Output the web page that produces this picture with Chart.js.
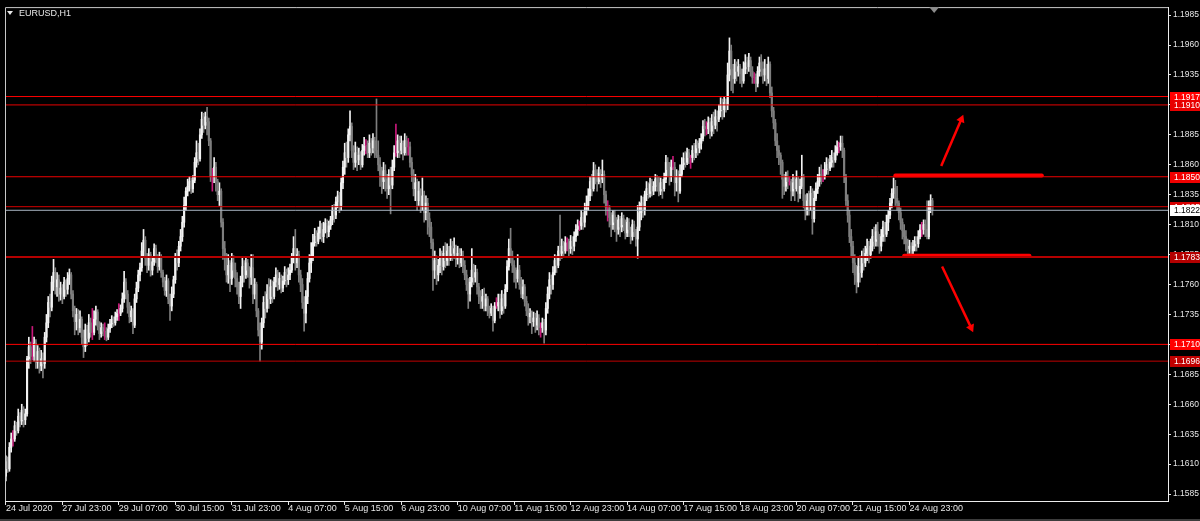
<!DOCTYPE html>
<html>
<head>
<meta charset="utf-8">
<title>EURUSD,H1</title>
<script src="https://cdn.jsdelivr.net/npm/chart.js@4.4.1/dist/chart.umd.min.js"></script>
<style>
  html, body { margin: 0; padding: 0; background: #000; }
  #wrap { position: relative; width: 1200px; height: 521px; }
  #title { position: absolute; left: 7px; top: 7px; color: #e8e8e8; font: 9px 'Liberation Sans', sans-serif; line-height: 12px; }
  #title .tri { display: inline-block; width: 0; height: 0; border-left: 3px solid transparent; border-right: 3px solid transparent; border-top: 4px solid #e8e8e8; margin-right: 6px; vertical-align: 1px; }
</style>
</head>
<body>
<div id="wrap">
  <canvas id="chart"></canvas>
  <div id="title"><span class="tri"></span>EURUSD,H1</div>
</div>
<script>
// --- 1. price data: H1 bars, 24 Jul 2020 .. 25 Aug 2020 ---
const firstOpen = 1.1600;

const closes = [
  1.1612,1.1606,1.1624,1.1631,1.1631,1.1642,1.1638,1.1650,1.1646,1.1655,
  1.1647,1.1652,1.1698,1.1708,1.1700,1.1700,1.1711,1.1695,1.1704,1.1692,
  1.1698,1.1694,1.1716,1.1728,1.1745,1.1741,1.1762,1.1770,1.1758,1.1764,
  1.1752,1.1757,1.1750,1.1762,1.1756,1.1765,1.1768,1.1752,1.1738,1.1729,
  1.1735,1.1724,1.1731,1.1716,1.1708,1.1722,1.1715,1.1728,1.1720,1.1720,
  1.1731,1.1737,1.1725,1.1719,1.1724,1.1721,1.1721,1.1716,1.1723,1.1727,
  1.1731,1.1728,1.1733,1.1736,1.1736,1.1740,1.1748,1.1762,1.1752,1.1741,
  1.1733,1.1738,1.1726,1.1748,1.1757,1.1768,1.1774,1.1788,1.1797,1.1782,
  1.1776,1.1785,1.1772,1.1779,1.1790,1.1781,1.1775,1.1783,1.1770,1.1762,
  1.1755,1.1763,1.1748,1.1742,1.1752,1.1764,1.1782,1.1778,1.1792,1.1800,
  1.1812,1.1826,1.1838,1.1842,1.1846,1.1840,1.1847,1.1862,1.1870,1.1865,
  1.1885,1.1898,1.1893,1.1900,1.1896,1.1880,1.1850,1.1850,1.1858,1.1846,
  1.1835,1.1838,1.1812,1.1790,1.1782,1.1768,1.1776,1.1765,1.1778,1.1772,
  1.1765,1.1758,1.1750,1.1762,1.1775,1.1768,1.1778,1.1772,1.1766,1.1774,
  1.1752,1.1760,1.1738,1.1722,1.1712,1.1728,1.1745,1.1740,1.1752,1.1748,
  1.1758,1.1750,1.1762,1.1768,1.1760,1.1765,1.1757,1.1763,1.1770,1.1764,
  1.1768,1.1772,1.1782,1.1790,1.1778,1.1785,1.1768,1.1760,1.1745,1.1736,
  1.1750,1.1765,1.1778,1.1784,1.1795,1.1800,1.1796,1.1803,1.1808,1.1800,
  1.1806,1.1811,1.1804,1.1809,1.1814,1.1822,1.1818,1.1829,1.1834,1.1826,
  1.1845,1.1858,1.1870,1.1866,1.1885,1.1892,1.1872,1.1862,1.1870,1.1864,
  1.1868,1.1860,1.1872,1.1876,1.1876,1.1870,1.1878,1.1874,1.1880,1.1872,
  1.1868,1.1860,1.1852,1.1846,1.1855,1.1848,1.1840,1.1852,1.1843,1.1858,
  1.1870,1.1870,1.1880,1.1872,1.1878,1.1870,1.1880,1.1875,1.1875,1.1862,
  1.1852,1.1840,1.1845,1.1830,1.1838,1.1826,1.1834,1.1820,1.1828,1.1815,
  1.1808,1.1795,1.1772,1.1780,1.1768,1.1776,1.1782,1.1775,1.1786,1.1780,
  1.1788,1.1782,1.1792,1.1786,1.1790,1.1781,1.1786,1.1778,1.1784,1.1776,
  1.1768,1.1760,1.1752,1.1762,1.1772,1.1766,1.1770,1.1758,1.1750,1.1746,
  1.1750,1.1742,1.1748,1.1738,1.1736,1.1740,1.1730,1.1742,1.1742,1.1745,
  1.1738,1.1748,1.1742,1.1756,1.1775,1.1790,1.1782,1.1776,1.1770,1.1765,
  1.1772,1.1760,1.1752,1.1758,1.1746,1.1738,1.1733,1.1736,1.1729,1.1732,
  1.1726,1.1732,1.1724,1.1724,1.1728,1.1722,1.1740,1.1752,1.1764,1.1760,
  1.1770,1.1780,1.1776,1.1788,1.1786,1.1792,1.1788,1.1795,1.1795,1.1790,
  1.1796,1.1792,1.1800,1.1806,1.1809,1.1809,1.1816,1.1812,1.1822,1.1826,
  1.1834,1.1846,1.1840,1.1855,1.1850,1.1846,1.1853,1.1848,1.1852,1.1835,
  1.1824,1.1824,1.1816,1.1810,1.1818,1.1812,1.1806,1.1814,1.1808,1.1815,
  1.1810,1.1803,1.1812,1.1806,1.1800,1.1810,1.1804,1.1798,1.1808,1.1820,
  1.1828,1.1822,1.1835,1.1840,1.1836,1.1844,1.1838,1.1842,1.1848,1.1843,
  1.1838,1.1845,1.1840,1.1848,1.1862,1.1856,1.1850,1.1858,1.1858,1.1845,
  1.1850,1.1838,1.1852,1.1860,1.1865,1.1862,1.1870,1.1866,1.1866,1.1872,
  1.1870,1.1876,1.1874,1.1878,1.1882,1.1892,1.1890,1.1890,1.1895,1.1888,
  1.1896,1.1893,1.1900,1.1898,1.1905,1.1910,1.1906,1.1912,1.1910,1.1935,
  1.1955,1.1940,1.1932,1.1944,1.1938,1.1942,1.1936,1.1930,1.1940,1.1945,
  1.1942,1.1947,1.1938,1.1933,1.1933,1.1928,1.1938,1.1945,1.1940,1.1935,
  1.1940,1.1932,1.1944,1.1920,1.1905,1.1895,1.1880,1.1872,1.1868,1.1862,
  1.1848,1.1842,1.1850,1.1846,1.1846,1.1838,1.1845,1.1840,1.1848,1.1836,
  1.1842,1.1850,1.1830,1.1822,1.1830,1.1826,1.1836,1.1815,1.1832,1.1840,
  1.1846,1.1852,1.1850,1.1850,1.1856,1.1860,1.1857,1.1862,1.1866,1.1864,
  1.1870,1.1875,1.1875,1.1878,1.1872,1.1850,1.1830,1.1818,1.1800,1.1792,
  1.1778,1.1768,1.1762,1.1775,1.1770,1.1782,1.1778,1.1786,1.1790,1.1785,
  1.1792,1.1800,1.1796,1.1804,1.1798,1.1792,1.1800,1.1808,1.1802,1.1812,
  1.1818,1.1828,1.1836,1.1840,1.1832,1.1828,1.1820,1.1812,1.1805,1.1800,
  1.1794,1.1790,1.1792,1.1788,1.1792,1.1796,1.1794,1.1800,1.1806,1.1806,
  1.1810,1.1806,1.1800,1.1825,1.1830,1.1822
];

const highs = [
  1.1617,1.1616,1.1628,1.1636,1.1638,1.1646,1.1645,1.1656,1.1653,1.1660,
  1.1658,1.1656,1.1700,1.1716,1.1712,1.1725,1.1716,1.1714,1.1709,1.1707,
  1.1705,1.1703,1.1720,1.1735,1.1750,1.1752,1.1767,1.1781,1.1774,1.1770,
  1.1768,1.1762,1.1760,1.1766,1.1764,1.1770,1.1773,1.1770,1.1755,1.1742,
  1.1740,1.1739,1.1738,1.1733,1.1722,1.1727,1.1726,1.1735,1.1732,1.1740,
  1.1738,1.1742,1.1739,1.1729,1.1728,1.1727,1.1728,1.1724,1.1727,1.1731,
  1.1734,1.1733,1.1737,1.1739,1.1744,1.1743,1.1753,1.1771,1.1765,1.1755,
  1.1745,1.1742,1.1740,1.1752,1.1762,1.1772,1.1778,1.1795,1.1806,1.1800,
  1.1786,1.1790,1.1787,1.1783,1.1794,1.1793,1.1785,1.1787,1.1785,1.1772,
  1.1766,1.1768,1.1765,1.1752,1.1758,1.1767,1.1786,1.1789,1.1796,1.1806,
  1.1817,1.1833,1.1841,1.1848,1.1850,1.1849,1.1851,1.1866,1.1880,1.1878,
  1.1890,1.1904,1.1903,1.1904,1.1908,1.1899,1.1882,1.1857,1.1866,1.1862,
  1.1848,1.1845,1.1840,1.1815,1.1796,1.1786,1.1785,1.1780,1.1786,1.1784,
  1.1778,1.1770,1.1762,1.1767,1.1782,1.1780,1.1783,1.1781,1.1775,1.1785,
  1.1785,1.1765,1.1762,1.1740,1.1728,1.1732,1.1750,1.1754,1.1760,1.1765,
  1.1764,1.1763,1.1766,1.1774,1.1772,1.1770,1.1768,1.1767,1.1775,1.1773,
  1.1774,1.1777,1.1786,1.1800,1.1806,1.1790,1.1788,1.1772,1.1765,1.1750,
  1.1755,1.1770,1.1785,1.1795,1.1802,1.1807,1.1805,1.1808,1.1813,1.1811,
  1.1812,1.1815,1.1814,1.1813,1.1817,1.1826,1.1827,1.1833,1.1838,1.1837,
  1.1849,1.1863,1.1878,1.1879,1.1890,1.1905,1.1895,1.1876,1.1879,1.1875,
  1.1874,1.1871,1.1877,1.1883,1.1881,1.1880,1.1885,1.1882,1.1886,1.1883,
  1.1915,1.1880,1.1866,1.1858,1.1862,1.1860,1.1852,1.1856,1.1858,1.1864,
  1.1876,1.1894,1.1885,1.1884,1.1884,1.1880,1.1886,1.1884,1.1882,1.1879,
  1.1866,1.1856,1.1852,1.1848,1.1846,1.1840,1.1849,1.1838,1.1834,1.1832,
  1.1820,1.1812,1.1798,1.1788,1.1784,1.1781,1.1790,1.1788,1.1792,1.1795,
  1.1794,1.1792,1.1798,1.1796,1.1799,1.1793,1.1792,1.1790,1.1790,1.1788,
  1.1780,1.1772,1.1765,1.1766,1.1790,1.1777,1.1776,1.1773,1.1761,1.1755,
  1.1756,1.1757,1.1752,1.1750,1.1742,1.1744,1.1742,1.1745,1.1749,1.1752,
  1.1752,1.1755,1.1752,1.1760,1.1780,1.1798,1.1807,1.1788,1.1780,1.1774,
  1.1785,1.1776,1.1766,1.1764,1.1760,1.1750,1.1744,1.1740,1.1738,1.1737,
  1.1736,1.1738,1.1735,1.1728,1.1732,1.1731,1.1745,1.1758,1.1770,1.1768,
  1.1775,1.1785,1.1784,1.1792,1.1818,1.1798,1.1796,1.1800,1.1799,1.1798,
  1.1801,1.1800,1.1804,1.1810,1.1814,1.1813,1.1822,1.1820,1.1828,1.1834,
  1.1840,1.1850,1.1852,1.1862,1.1860,1.1856,1.1858,1.1856,1.1864,1.1855,
  1.1838,1.1830,1.1826,1.1820,1.1822,1.1822,1.1816,1.1818,1.1817,1.1820,
  1.1818,1.1814,1.1816,1.1815,1.1808,1.1814,1.1813,1.1806,1.1826,1.1829,
  1.1834,1.1833,1.1838,1.1846,1.1845,1.1849,1.1848,1.1846,1.1852,1.1851,
  1.1850,1.1849,1.1848,1.1853,1.1868,1.1866,1.1862,1.1864,1.1867,1.1862,
  1.1856,1.1855,1.1860,1.1866,1.1870,1.1871,1.1874,1.1873,1.1868,1.1876,
  1.1878,1.1881,1.1880,1.1882,1.1886,1.1897,1.1898,1.1896,1.1900,1.1899,
  1.1902,1.1904,1.1906,1.1905,1.1910,1.1916,1.1915,1.1917,1.1915,1.1945,
  1.1966,1.1960,1.1944,1.1948,1.1946,1.1948,1.1944,1.1940,1.1946,1.1952,
  1.1950,1.1953,1.1950,1.1942,1.1937,1.1936,1.1942,1.1950,1.1952,1.1946,
  1.1948,1.1944,1.1950,1.1946,1.1925,1.1908,1.1898,1.1886,1.1876,1.1870,
  1.1864,1.1852,1.1854,1.1855,1.1850,1.1848,1.1852,1.1850,1.1855,1.1850,
  1.1848,1.1868,1.1852,1.1835,1.1836,1.1838,1.1842,1.1840,1.1838,1.1845,
  1.1852,1.1858,1.1860,1.1856,1.1862,1.1866,1.1865,1.1868,1.1872,1.1870,
  1.1876,1.1880,1.1879,1.1884,1.1884,1.1874,1.1852,1.1835,1.1822,1.1806,
  1.1796,1.1785,1.1776,1.1782,1.1784,1.1788,1.1790,1.1792,1.1798,1.1796,
  1.1798,1.1806,1.1808,1.1810,1.1812,1.1802,1.1806,1.1813,1.1812,1.1818,
  1.1822,1.1832,1.1840,1.1849,1.1847,1.1842,1.1830,1.1824,1.1815,1.1810,
  1.1805,1.1798,1.1797,1.1795,1.1797,1.1800,1.1800,1.1805,1.1810,1.1812,
  1.1814,1.1814,1.1830,1.1830,1.1835,1.1832
];

const lows = [
  1.1596,1.1603,1.1604,1.1620,1.1625,1.1629,1.1634,1.1636,1.1641,1.1643,
  1.1641,1.1643,1.1650,1.1690,1.1694,1.1697,1.1696,1.1690,1.1690,1.1686,
  1.1688,1.1682,1.1690,1.1712,1.1724,1.1733,1.1738,1.1755,1.1752,1.1750,
  1.1746,1.1747,1.1744,1.1748,1.1750,1.1752,1.1760,1.1748,1.1733,1.1718,
  1.1722,1.1718,1.1720,1.1710,1.1699,1.1704,1.1709,1.1712,1.1716,1.1714,
  1.1718,1.1726,1.1722,1.1714,1.1716,1.1717,1.1714,1.1713,1.1714,1.1720,
  1.1724,1.1725,1.1726,1.1730,1.1730,1.1734,1.1737,1.1745,1.1748,1.1736,
  1.1728,1.1729,1.1719,1.1724,1.1745,1.1754,1.1763,1.1771,1.1784,1.1776,
  1.1770,1.1772,1.1767,1.1768,1.1776,1.1778,1.1770,1.1772,1.1766,1.1758,
  1.1751,1.1750,1.1744,1.1730,1.1738,1.1749,1.1761,1.1772,1.1775,1.1788,
  1.1796,1.1808,1.1822,1.1834,1.1838,1.1836,1.1837,1.1845,1.1858,1.1860,
  1.1863,1.1882,1.1887,1.1890,1.1885,1.1876,1.1846,1.1838,1.1845,1.1838,
  1.1830,1.1826,1.1808,1.1781,1.1772,1.1762,1.1761,1.1754,1.1760,1.1766,
  1.1758,1.1752,1.1744,1.1740,1.1758,1.1762,1.1765,1.1766,1.1757,1.1760,
  1.1744,1.1748,1.1733,1.1717,1.1696,1.1706,1.1724,1.1732,1.1737,1.1740,
  1.1744,1.1745,1.1748,1.1758,1.1755,1.1756,1.1753,1.1754,1.1760,1.1758,
  1.1760,1.1764,1.1770,1.1778,1.1772,1.1774,1.1762,1.1754,1.1740,1.1721,
  1.1728,1.1744,1.1762,1.1770,1.1780,1.1792,1.1792,1.1794,1.1798,1.1796,
  1.1795,1.1803,1.1799,1.1800,1.1806,1.1810,1.1812,1.1815,1.1824,1.1820,
  1.1822,1.1840,1.1852,1.1858,1.1862,1.1880,1.1866,1.1856,1.1858,1.1855,
  1.1860,1.1856,1.1858,1.1868,1.1869,1.1866,1.1866,1.1868,1.1870,1.1866,
  1.1866,1.1855,1.1842,1.1836,1.1840,1.1838,1.1832,1.1835,1.1819,1.1840,
  1.1855,1.1867,1.1866,1.1866,1.1869,1.1864,1.1868,1.1868,1.1868,1.1858,
  1.1846,1.1834,1.1830,1.1822,1.1826,1.1820,1.1822,1.1812,1.1814,1.1802,
  1.1800,1.1790,1.1755,1.1765,1.1760,1.1763,1.1770,1.1768,1.1772,1.1774,
  1.1776,1.1776,1.1780,1.1780,1.1782,1.1775,1.1777,1.1774,1.1775,1.1770,
  1.1764,1.1755,1.1740,1.1746,1.1758,1.1760,1.1762,1.1752,1.1744,1.1740,
  1.1740,1.1738,1.1738,1.1734,1.1732,1.1734,1.1721,1.1728,1.1740,1.1738,
  1.1732,1.1735,1.1736,1.1740,1.1754,1.1772,1.1778,1.1770,1.1762,1.1757,
  1.1762,1.1756,1.1749,1.1748,1.1742,1.1734,1.1726,1.1728,1.1719,1.1725,
  1.1720,1.1722,1.1718,1.1716,1.1720,1.1711,1.1718,1.1736,1.1748,1.1752,
  1.1756,1.1768,1.1770,1.1774,1.1780,1.1782,1.1783,1.1786,1.1788,1.1784,
  1.1786,1.1785,1.1788,1.1796,1.1801,1.1805,1.1806,1.1806,1.1808,1.1818,
  1.1822,1.1830,1.1834,1.1838,1.1844,1.1838,1.1844,1.1841,1.1845,1.1828,
  1.1818,1.1813,1.1808,1.1800,1.1806,1.1804,1.1796,1.1802,1.1800,1.1804,
  1.1805,1.1798,1.1800,1.1800,1.1794,1.1797,1.1800,1.1792,1.1782,1.1805,
  1.1814,1.1816,1.1818,1.1830,1.1832,1.1833,1.1834,1.1835,1.1838,1.1838,
  1.1834,1.1835,1.1832,1.1838,1.1845,1.1850,1.1843,1.1846,1.1856,1.1834,
  1.1838,1.1829,1.1836,1.1850,1.1856,1.1858,1.1860,1.1861,1.1857,1.1862,
  1.1864,1.1866,1.1868,1.1870,1.1873,1.1880,1.1884,1.1885,1.1886,1.1882,
  1.1884,1.1886,1.1890,1.1888,1.1896,1.1900,1.1898,1.1900,1.1904,1.1906,
  1.1930,1.1922,1.1920,1.1928,1.1930,1.1934,1.1928,1.1925,1.1928,1.1936,
  1.1936,1.1938,1.1934,1.1928,1.1928,1.1921,1.1925,1.1934,1.1934,1.1928,
  1.1930,1.1926,1.1928,1.1916,1.1900,1.1890,1.1876,1.1866,1.1860,1.1852,
  1.1832,1.1835,1.1838,1.1840,1.1843,1.1830,1.1834,1.1830,1.1838,1.1829,
  1.1832,1.1840,1.1824,1.1814,1.1818,1.1818,1.1822,1.1802,1.1812,1.1830,
  1.1836,1.1842,1.1844,1.1846,1.1848,1.1852,1.1852,1.1855,1.1858,1.1858,
  1.1862,1.1868,1.1870,1.1872,1.1866,1.1845,1.1826,1.1812,1.1795,1.1784,
  1.1770,1.1760,1.1753,1.1758,1.1762,1.1766,1.1772,1.1775,1.1780,1.1778,
  1.1782,1.1788,1.1790,1.1792,1.1792,1.1786,1.1788,1.1796,1.1796,1.1800,
  1.1805,1.1815,1.1824,1.1832,1.1826,1.1822,1.1814,1.1806,1.1798,1.1794,
  1.1788,1.1785,1.1786,1.1784,1.1784,1.1788,1.1788,1.1791,1.1798,1.1800,
  1.1802,1.1800,1.1798,1.1798,1.1820,1.1818
];

// each H1 bar opens where the previous one closed
const opens = closes.map((c, i) => (i === 0 ? firstOpen : closes[i - 1]));

// --- 2. axis labels ---
const tickBars = [0, 32, 64, 96, 128, 160, 192, 224, 256, 288, 320, 352, 384, 416, 448, 480, 512];
const timeLabels = [
  '24 Jul 2020', '27 Jul 23:00', '29 Jul 07:00', '30 Jul 15:00', '31 Jul 23:00', '4 Aug 07:00',
  '5 Aug 15:00', '6 Aug 23:00', '10 Aug 07:00', '11 Aug 15:00', '12 Aug 23:00', '14 Aug 07:00',
  '17 Aug 15:00', '18 Aug 23:00', '20 Aug 07:00', '21 Aug 15:00', '24 Aug 23:00'
];
const priceTicks = [
  1.1585, 1.1610, 1.1635, 1.1660, 1.1685, 1.1710, 1.1735, 1.1760, 1.1785,
  1.1810, 1.1835, 1.1860, 1.1885, 1.1910, 1.1935, 1.1960, 1.1985
];

// --- 3. horizontal levels and drawn objects (bar index / price) ---
const levelPrices = [1.1917, 1.1910, 1.1850, 1.1825, 1.1783, 1.1710, 1.1696];
const bidPrice = 1.1822;
const upperZone = [{ x: 504, y: 1.1851 }, { x: 587, y: 1.1851 }];
const lowerZone = [{ x: 509, y: 1.1784 }, { x: 580, y: 1.1784 }];
const upArrow = [{ x: 530, y: 1.1859 }, { x: 541.4, y: 1.1898 }];
const downArrow = [{ x: 530.5, y: 1.1775 }, { x: 546.9, y: 1.1724 }];

// visible window
const xMin = -0.5, xMax = 658.5;
const yMin = 1.15792, yMax = 1.19917;

// styles
const levelColors = ['#ff0000', '#e80000', '#f00000', '#d40000', '#b40000', '#ff0000', '#c00000'];
const levelWidths = [1, 1, 1, 1, 2, 1, 1];
const bullColor = '#f2f2f2';
const bearColor = '#7e7e7e';
const dojiColor = '#c8187a';
const textColor = '#e6e6e6';
const axisFont = "'Liberation Sans', Arial, sans-serif";

const candleColors = closes.map((c, i) => {
  if (c > opens[i]) return bullColor;
  if (c < opens[i]) return bearColor;
  return dojiColor;
});

Chart.defaults.font.family = axisFont;
Chart.defaults.font.size = 9;

function levelDataset(price, color, width) {
  return {
    type: 'line',
    data: [{ x: xMin, y: price }, { x: xMax, y: price }],
    borderColor: color,
    borderWidth: width,
    pointRadius: 0,
    order: 0
  };
}

function drawTag(chart, price, fill, ink) {
  const { ctx, chartArea } = chart;
  const py = Math.round(chart.scales.y.getPixelForValue(price));
  ctx.fillStyle = fill;
  ctx.fillRect(chartArea.right + 2, py - 5, chart.width - chartArea.right - 2, 11);
  ctx.fillStyle = ink;
  ctx.fillText(price.toFixed(4), chartArea.right + 6, py + 0.5);
}

// frame, price tags and shift marker
const terminalPlugin = {
  id: 'terminal',
  beforeDraw(chart) {
    const { ctx } = chart;
    ctx.save();
    ctx.fillStyle = '#000';
    ctx.fillRect(0, 0, chart.width, chart.height);
    ctx.fillStyle = '#3c3c3c';
    ctx.fillRect(0, chart.height - 2, chart.width, 2);
    ctx.restore();
  },
  afterDraw(chart) {
    const { ctx, chartArea } = chart;
    ctx.save();
    ctx.strokeStyle = '#c8c8c8';
    ctx.lineWidth = 1;
    ctx.beginPath();
    ctx.moveTo(chartArea.left + 0.5, chartArea.bottom);
    ctx.lineTo(chartArea.left + 0.5, chartArea.top + 0.5);
    ctx.lineTo(chartArea.right, chartArea.top + 0.5);
    ctx.stroke();

    ctx.font = '8.5px ' + axisFont;
    ctx.textBaseline = 'middle';
    ctx.textAlign = 'left';
    levelPrices.forEach((p, k) => drawTag(chart, p, levelColors[k], '#ffffff'));
    drawTag(chart, bidPrice, '#ffffff', '#000000');

    const sx = chart.scales.x.getPixelForValue(closes.length);
    ctx.fillStyle = '#8c8c8c';
    ctx.beginPath();
    ctx.moveTo(sx - 5, chartArea.top);
    ctx.lineTo(sx + 5, chartArea.top);
    ctx.lineTo(sx, chartArea.top + 6);
    ctx.closePath();
    ctx.fill();
    ctx.restore();
  }
};

const datasets = levelPrices.map((p, k) => levelDataset(p, levelColors[k], levelWidths[k]));
datasets.push(levelDataset(bidPrice, '#a9b4c2', 1));
datasets.push(
  { type: 'line', data: upperZone, borderColor: '#ff0000', borderWidth: 4, borderCapStyle: 'round', pointRadius: 0, order: 0 },
  { type: 'line', data: lowerZone, borderColor: '#ff0000', borderWidth: 4, borderCapStyle: 'round', pointRadius: 0, order: 0 },
  {
    type: 'line', data: upArrow, borderColor: '#ff0000', borderWidth: 2.5, order: 0,
    pointRadius: [0, 5], pointStyle: 'triangle', pointRotation: [0, 23],
    pointBackgroundColor: '#ff0000', pointBorderWidth: 0
  },
  {
    type: 'line', data: downArrow, borderColor: '#ff0000', borderWidth: 2.5, order: 0,
    pointRadius: [0, 5], pointStyle: 'triangle', pointRotation: [0, 155],
    pointBackgroundColor: '#ff0000', pointBorderWidth: 0
  },
  {
    type: 'bar',
    data: closes.map((c, i) => ({ x: i, y: [lows[i], highs[i]] })),
    backgroundColor: candleColors,
    barThickness: 1,
    grouped: false,
    order: 3
  },
  {
    type: 'bar',
    data: closes.map((c, i) => ({ x: i, y: [opens[i], c] })),
    backgroundColor: candleColors,
    barThickness: 1.5,
    grouped: false,
    order: 2
  }
);

new Chart(document.getElementById('chart'), {
  type: 'bar',
  data: { datasets: datasets },
  options: {
    responsive: true,
    maintainAspectRatio: false,
    devicePixelRatio: 1,
    animation: false,
    events: [],
    layout: { padding: { left: 5, top: 5, right: 0, bottom: 0 } },
    plugins: { legend: { display: false }, tooltip: { enabled: false } },
    scales: {
      x: {
        type: 'linear',
        min: xMin,
        max: xMax,
        offset: false,
        grid: { drawOnChartArea: false, offset: false, tickLength: 4, color: textColor },
        border: { display: true, color: '#ececec' },
        ticks: {
          autoSkip: false,
          maxRotation: 0,
          align: 'start',
          padding: -2,
          color: textColor,
          font: { size: 9 },
          callback: (value) => timeLabels[tickBars.indexOf(value)]
        },
        afterBuildTicks: (scale) => { scale.ticks = tickBars.map(v => ({ value: v })); },
        afterFit: (scale) => { scale.height = 20; }
      },
      y: {
        type: 'linear',
        position: 'right',
        min: yMin,
        max: yMax,
        beginAtZero: false,
        grid: { drawOnChartArea: false, tickLength: 3, color: textColor },
        border: { display: true, color: '#ececec' },
        ticks: {
          padding: 2,
          color: textColor,
          font: { size: 8.5 },
          callback: (value) => value.toFixed(4)
        },
        afterBuildTicks: (scale) => { scale.ticks = priceTicks.map(v => ({ value: v })); },
        afterFit: (scale) => { scale.width = 32; }
      }
    }
  },
  plugins: [terminalPlugin]
});
</script>
</body>
</html>
